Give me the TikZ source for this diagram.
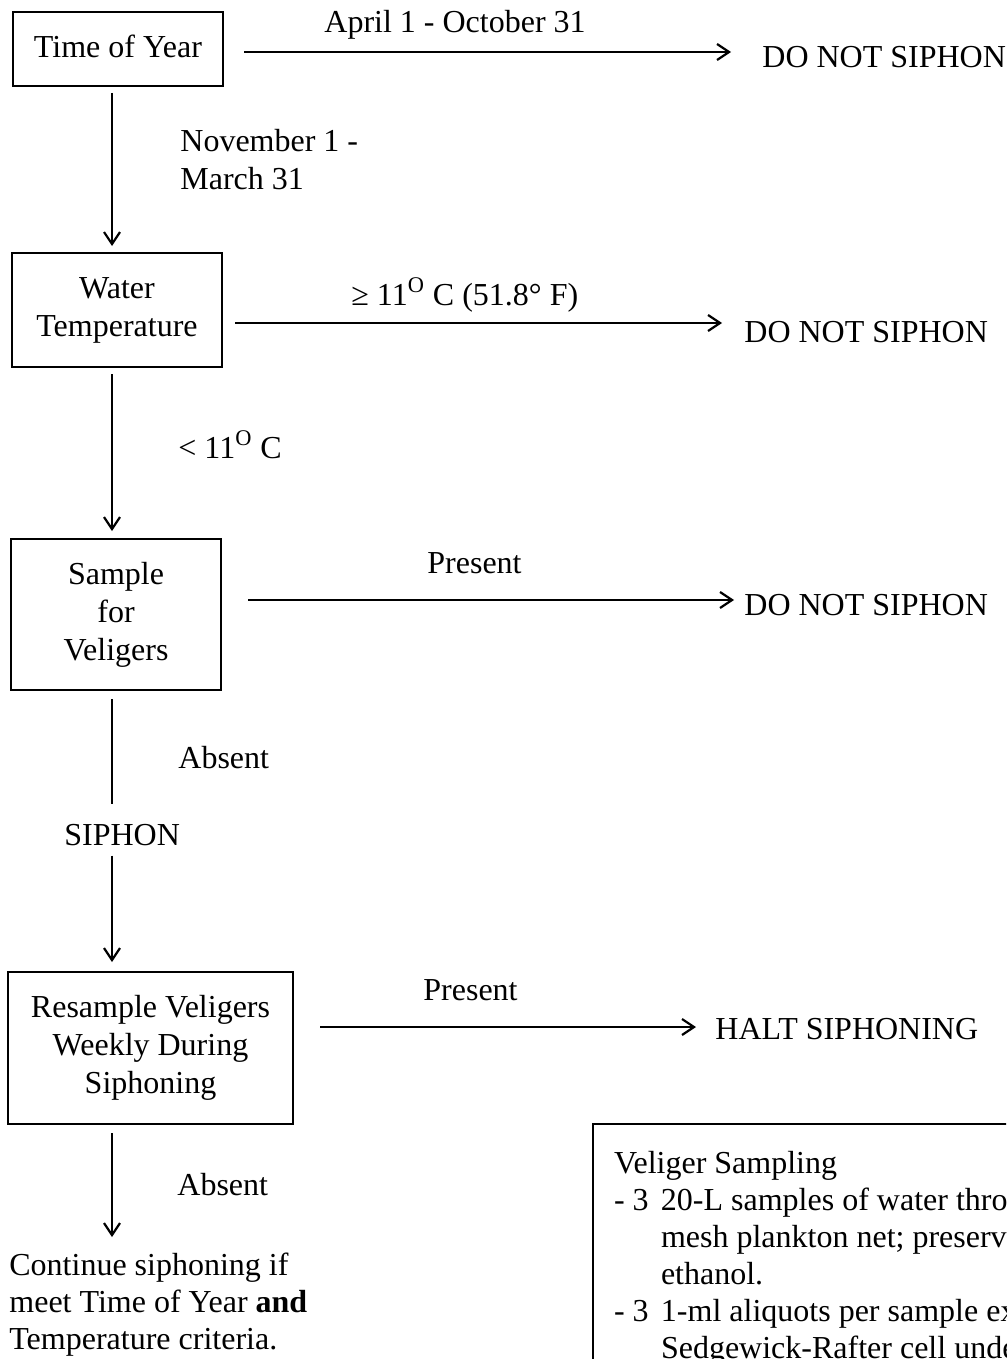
\documentclass[tikz,border=0pt]{standalone}
\usepackage{fontspec}
\setmainfont{Liberation Serif}
\usetikzlibrary{arrows.meta}
\begin{document}
\begin{tikzpicture}[x=0.5pt,y=-0.5pt,
                    every node/.style={font=\fontsize{16pt}{19pt}\selectfont, inner sep=0pt},
                    stepbox/.style={draw, line width=1pt, align=center},
                    flow/.style={line width=1.1pt, -{Straight Barb[length=6pt,width=8pt,line width=1.1pt]}},
                    plain/.style={line width=1.1pt}]
                    \useasboundingbox (0,0) rectangle (1006,1359);
                    \clip (0,0) rectangle (1006,1359);
                    \coordinate (spine) at (112,0);

                    \node[stepbox, minimum width=105pt, minimum height=37pt, text depth=2.5pt] (time) at (118,49) {Time of Year};
                    \node[stepbox, minimum width=105pt, minimum height=57pt] (water) at (117,310) {Water\\Temperature};
                    \node[stepbox, minimum width=105pt, minimum height=75.5pt] (sample) at (116,614.5) {Sample\\for\\Veligers};
                    \node[stepbox, minimum width=142.5pt, minimum height=76pt] (resample) at (150.5,1048) {Resample Veligers\\Weekly During\\Siphoning};

                    \node[anchor=base west] (dnsA) at (762,68) {DO NOT SIPHON};
                    \node[anchor=base west] (dnsB) at (744,342) {DO NOT SIPHON};
                    \node[anchor=base west] (dnsC) at (744,615) {DO NOT SIPHON};
                    \node[anchor=base west] (halt) at (715,1039) {HALT SIPHONING};
                    \node[anchor=base west] (siphon) at (64,845) {SIPHON};
                    \node[anchor=north west, align=left, font=\fontsize{16pt}{18.5pt}\selectfont] (cont) at (9,1253) {Continue siphoning if\\meet Time of Year \textbf{and}\\Temperature criteria.};

                    \node[anchor=base west] (lblApr) at (324,33) {April 1 - October 31};
                    \node[anchor=north west, align=left] (lblNov) at (180,129) {November 1 -\\March 31};
                    \node[anchor=base west] (lblWarm) at (351,305) {≥ 11\textsuperscript{O} C (51.8° F)};
                    \node[anchor=base west] (lblCold) at (178,458) {< 11\textsuperscript{O} C};
                    \node[anchor=base west] (lblPresA) at (427,573) {Present};
                    \node[anchor=base west] (lblAbsA) at (178,768) {Absent};
                    \node[anchor=base west] (lblPresB) at (423,1000) {Present};
                    \node[anchor=base west] (lblAbsB) at (177,1195) {Absent};

                    \node[draw, line width=1pt, anchor=north west, align=flush left, inner xsep=10.5pt, inner ysep=13.5pt,
                          text width=215pt, font=\fontsize{16pt}{18.5pt}\selectfont] (veliger) at (592,1123)
                        {Veliger Sampling\\
                         \makebox[23.5pt][l]{- 3}20-L samples of water thro\\
                         \hspace*{23.5pt}mesh plankton net; preserv\\
                         \hspace*{23.5pt}ethanol.\\
                         \makebox[23.5pt][l]{- 3}1-ml aliquots per sample ex\\
                         \hspace*{23.5pt}Sedgewick-Rafter cell unde};

                    \draw[flow, shorten <=3pt, shorten >=3pt] (time.south -| spine) -- (water.north -| spine);
                    \draw[flow, shorten <=3pt, shorten >=3.5pt] (water.south -| spine) -- (sample.north -| spine);
                    \draw[plain, shorten <=4pt, shorten >=9.5pt] (sample.south -| spine) -- (siphon.north -| spine);
                    \draw[flow, shorten <=5pt, shorten >=4.5pt] (siphon.south -| spine) -- (resample.north -| spine);
                    \draw[flow, shorten <=4pt, shorten >=8pt] (resample.south -| spine) -- (cont.north -| spine);

                    \draw[flow, shorten <=10pt, shorten >=15.5pt] ([yshift=-1.5pt]time.east) -- ([yshift=-1.5pt]time.east -| dnsA.west);
                    \draw[flow, shorten <=6pt, shorten >=11pt] ([yshift=-6.5pt]water.east) -- ([yshift=-6.5pt]water.east -| dnsB.west);
                    \draw[flow, shorten <=13pt, shorten >=5pt] ([yshift=7.25pt]sample.east) -- ([yshift=7.25pt]sample.east -| dnsC.west);
                    \draw[flow, shorten <=13pt, shorten >=9.5pt] ([yshift=10.5pt]resample.east) -- ([yshift=10.5pt]resample.east -| halt.west);
                \end{tikzpicture}
\end{document}
